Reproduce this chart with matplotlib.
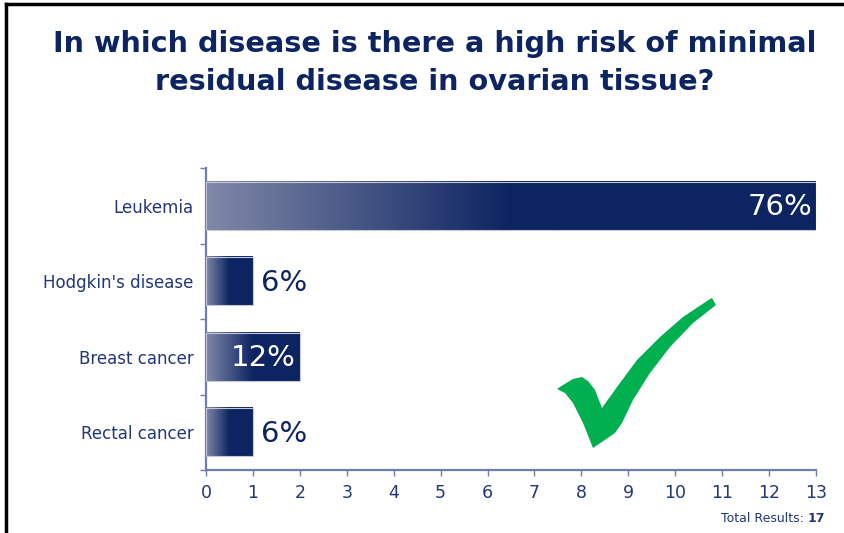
import numpy as np
import matplotlib
matplotlib.use("Agg")
import matplotlib.pyplot as plt
from matplotlib.patches import Rectangle, Polygon
from matplotlib.lines import Line2D
from matplotlib.colors import to_rgb

# ==============================
# DATA
# ==============================

categories = ["Leukemia", "Hodgkin's disease", "Breast cancer", "Rectal cancer"]
counts = [13, 1, 2, 1]
percents = [76, 6, 12, 6]
total_results = 17
x_ticks = list(range(0, 14))

TITLE = "In which disease is there a high risk of minimal\nresidual disease in ovarian tissue?"

# ==============================
# STYLE
# ==============================

NAVY = "#0d2462"
TEXT = "#22367a"
AXIS = "#6f7db0"
LIGHT = "#8088a8"
BAR_H = 0.64

plt.rcParams["font.family"] = ["DejaVu Sans"]

fig = plt.figure(figsize=(8.45, 5.33), dpi=100)
W, H = 845, 533
ax = fig.add_axes([206 / W, 1 - 470 / H, (816 - 206) / W, (470 - 168) / H])

ypos = np.arange(len(categories))

# gradient bars
c0 = np.array(to_rgb(LIGHT))
c1 = np.array(to_rgb(NAVY))
n = 256
t = np.linspace(0, 1, n)
mix = np.clip(t / 0.5, 0, 1)
grad = (c0[None, :] * (1 - mix[:, None]) + c1[None, :] * mix[:, None])[None, :, :]

for y, c, p in zip(ypos, counts, percents):
    ax.imshow(grad, extent=(0, c, y + BAR_H / 2, y - BAR_H / 2),
              aspect="auto", interpolation="bilinear", zorder=2)
    ax.add_patch(Rectangle((0, y - BAR_H / 2), c, BAR_H, fill=False,
                           edgecolor="#c4c8d4", linewidth=0.8, zorder=3))
    if c >= 2:
        ax.text(c - 0.08, y + 0.02, f"{p}%", color="white", fontsize=21,
                ha="right", va="center", zorder=4)
    else:
        ax.text(c + 0.17, y + 0.02, f"{p}%", color=NAVY, fontsize=21,
                ha="left", va="center", zorder=4)

ax.set_xlim(0, 13)
ax.set_ylim(len(categories) - 0.5, -0.5)

# axes styling
for s in ["top", "right"]:
    ax.spines[s].set_visible(False)
for s in ["left", "bottom"]:
    ax.spines[s].set_color(AXIS)
    ax.spines[s].set_linewidth(1.6)

ax.set_xticks(x_ticks)
ax.set_xticklabels([str(v) for v in x_ticks])
ax.tick_params(axis="x", direction="out", length=4, width=1, color=AXIS,
               labelsize=12.5, labelcolor=TEXT, pad=6)

ax.set_yticks(np.arange(len(categories) + 1) - 0.5)
ax.set_yticklabels([])
ax.set_yticks(ypos, minor=True)
ax.set_yticklabels(categories, minor=True)
ax.tick_params(axis="y", which="major", direction="out", length=4, width=1, color=AXIS)
ax.tick_params(axis="y", which="minor", length=0, labelsize=12, labelcolor=TEXT, pad=9)

# title
fig.text(0.515, 1 - 63 / H, TITLE, ha="center", va="center", fontsize=20.7,
         fontweight="bold", color=NAVY, linespacing=1.45)

# total results
fig.text(825 / W, 1 - 519 / H, f"{total_results}", ha="right", va="center",
         fontsize=9, fontweight="bold", color=TEXT)
fig.text(808 / W, 1 - 519 / H, "Total Results: ", ha="right", va="center",
         fontsize=9, color=TEXT)

# frame lines (top and left)
fig.add_artist(Line2D([6 / W, 1], [1 - 4 / H, 1 - 4 / H], color="black", linewidth=2.5))
fig.add_artist(Line2D([6 / W, 6 / W], [0, 1 - 4 / H], color="black", linewidth=2.5))

# green check mark
check_px = [(557, 389), (563, 385), (573, 379), (582, 377), (588, 381), (595, 390),
            (602, 408), (617, 387), (637, 360), (660, 337), (683, 317), (710, 299),
            (712, 298), (716, 305), (693, 323), (670, 347), (650, 373), (633, 400),
            (622, 423), (615, 433), (593, 448), (583, 423), (573, 403), (565, 393)]
check = Polygon([(x / W, 1 - y / H) for x, y in check_px], closed=True,
                facecolor="#00b050", edgecolor="none", transform=fig.transFigure)
fig.add_artist(check)

fig.savefig("out.png", dpi=100)
